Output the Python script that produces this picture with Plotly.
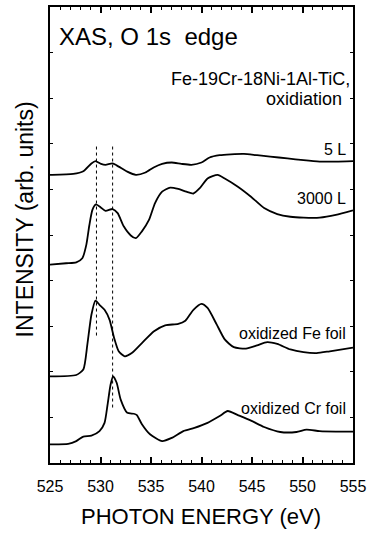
import plotly.graph_objects as go

# Photon energy grids (eV) and offset intensities (arb. units) for each spectrum
e_5L = [525.0, 525.2, 527.3, 528.3, 529.1, 529.5, 530.05, 530.5, 531.2, 531.8, 532.65,
        533.5, 534.45, 535.26, 536.1, 537.05, 538.0, 539.0, 540.0, 540.8, 541.8, 542.9,
        544.2, 545.5, 546.8, 548.5, 550.1, 551.7, 553.3, 555.0]
i_5L = [6.32, 6.32, 6.34, 6.40, 6.57, 6.62, 6.56, 6.54, 6.57, 6.50, 6.39,
        6.32, 6.37, 6.48, 6.56, 6.59, 6.56, 6.54, 6.59, 6.70, 6.75, 6.77,
        6.78, 6.75, 6.72, 6.68, 6.64, 6.61, 6.61, 6.62]

e_3000L = [525.0, 526.6, 527.6, 528.2, 528.6, 528.9, 529.2, 529.55, 530.05, 530.5, 531.2,
           531.7, 532.3, 533.0, 533.5, 534.1, 534.8, 535.4, 536.1, 536.9, 537.7, 538.5,
           539.2, 539.8, 540.6, 541.6, 542.3, 543.6, 544.9, 546.2, 547.5, 548.8, 550.1,
           551.7, 553.3, 555.0]
i_3000L = [4.35, 4.38, 4.40, 4.49, 4.79, 5.22, 5.55, 5.67, 5.60, 5.53, 5.57,
           5.48, 5.19, 4.99, 4.93, 5.08, 5.33, 5.70, 5.95, 6.04, 6.01, 5.95,
           5.91, 6.02, 6.24, 6.32, 6.24, 6.06, 5.84, 5.59, 5.46, 5.40, 5.38,
           5.38, 5.44, 5.54]

e_fe = [525.0, 527.6, 528.3, 528.7, 529.1, 529.5, 529.9, 530.4, 530.9, 531.35, 531.8,
        532.4, 533.1, 534.1, 535.3, 536.4, 537.7, 538.4, 539.2, 540.0, 540.6, 541.5,
        542.3, 543.2, 544.4, 545.5, 546.5, 547.5, 548.8, 550.1, 551.4, 552.7, 555.0]
i_fe = [1.90, 1.93, 2.05, 2.60, 3.25, 3.56, 3.47, 3.36, 3.14, 2.74, 2.45,
        2.34, 2.41, 2.63, 2.89, 3.02, 3.05, 3.12, 3.36, 3.49, 3.40, 3.04,
        2.71, 2.54, 2.51, 2.58, 2.65, 2.61, 2.49, 2.43, 2.41, 2.45, 2.53]

e_cr = [525.0, 526.8, 527.6, 528.3, 529.1, 529.9, 530.4, 530.7, 531.0, 531.25, 531.6,
        532.0, 532.65, 533.3, 533.6, 534.1, 534.9, 536.1, 537.05, 538.2, 539.3, 540.6,
        541.8, 542.6, 543.6, 544.9, 546.2, 547.8, 549.4, 550.4, 551.7, 553.3, 555.0]
i_cr = [0.41, 0.42, 0.48, 0.58, 0.60, 0.70, 0.88, 1.28, 1.72, 1.90, 1.76,
        1.39, 1.10, 1.08, 1.05, 0.85, 0.63, 0.48, 0.55, 0.70, 0.77, 0.88,
        1.03, 1.14, 1.05, 0.93, 0.79, 0.68, 0.68, 0.73, 0.70, 0.69, 0.69]

# Vertical guide lines at the two pre-edge features: energy, top, bottom
guide_e = [529.6, 531.2]
guide_top = [6.94, 6.94]
guide_bottom = [2.78, 1.18]

# Curve labels: text and vertical position
label_text = ["5 L", "3000 L", "oxidized Fe foil", "oxidized Cr foil"]
label_y = [6.87, 5.80, 2.85, 1.20]

FONT = "Liberation Sans, Arial, sans-serif"

W, H = 371, 535
ML, MR, MT, MB = 50, 14, 5, 72
plot_w = W - ML - MR
plot_h = H - MT - MB


def px_x(px):
    return (px - ML) / plot_w


def px_y(py):
    return (H - MB - py) / plot_h


fig = go.Figure()

for e, i in [(e_5L, i_5L), (e_3000L, i_3000L), (e_fe, i_fe), (e_cr, i_cr)]:
    fig.add_trace(go.Scatter(x=e, y=i, mode="lines",
                             line=dict(color="black", width=1.8, shape="spline", smoothing=0.6),
                             showlegend=False, hoverinfo="skip"))

for ge, gt, gb in zip(guide_e, guide_top, guide_bottom):
    fig.add_trace(go.Scatter(x=[ge, ge], y=[gt, gb], mode="lines",
                             line=dict(color="black", width=1, dash="dot"),
                             showlegend=False, hoverinfo="skip"))

for txt, ly in zip(label_text, label_y):
    fig.add_annotation(x=554.5, y=ly, xref="x", yref="y", text=txt, showarrow=False,
                       xanchor="right", yanchor="middle",
                       font=dict(family=FONT, size=16, color="black"))

fig.add_annotation(x=px_x(57), y=px_y(35), xref="paper", yref="paper",
                   text="XAS, O 1s\u00a0 edge", showarrow=False,
                   xanchor="left", yanchor="middle",
                   font=dict(family=FONT, size=24, color="black"))
fig.add_annotation(x=px_x(356), y=px_y(77), xref="paper", yref="paper",
                   text="Fe-19Cr-18Ni-1Al-TiC,", showarrow=False,
                   xanchor="right", yanchor="middle",
                   font=dict(family=FONT, size=18, color="black"))
fig.add_annotation(x=px_x(348), y=px_y(97), xref="paper", yref="paper",
                   text="oxidiation", showarrow=False,
                   xanchor="right", yanchor="middle",
                   font=dict(family=FONT, size=18, color="black"))

# Axis titles
fig.add_annotation(x=px_x(203), y=px_y(517), xref="paper", yref="paper",
                   text="PHOTON ENERGY (eV)", showarrow=False,
                   xanchor="center", yanchor="middle",
                   font=dict(family=FONT, size=22, color="black"))
fig.add_annotation(x=px_x(25), y=px_y(218), xref="paper", yref="paper",
                   text="INTENSITY (arb. units)", showarrow=False, textangle=-90,
                   xanchor="center", yanchor="middle",
                   font=dict(family=FONT, size=23, color="black"))

fig.update_layout(
    width=W, height=H,
    margin=dict(l=ML, r=MR, t=MT, b=MB),
    paper_bgcolor="white", plot_bgcolor="white",
    font=dict(family=FONT, color="black"),
    xaxis=dict(range=[525, 555], tickmode="linear", tick0=525, dtick=5,
               ticks="inside", ticklen=6, tickwidth=1.5, tickcolor="black",
               minor=dict(dtick=1, ticks="inside", ticklen=3, tickwidth=1.2, tickcolor="black"),
               showline=True, linecolor="black", linewidth=2, mirror="allticks",
               showgrid=False, zeroline=False, ticklabelstandoff=8,
               tickfont=dict(family=FONT, size=16, color="black")),
    yaxis=dict(range=[0, 10], tickmode="linear", tick0=0, dtick=1,
               ticks="inside", ticklen=3, tickwidth=1, tickcolor="black",
               showticklabels=False,
               showline=True, linecolor="black", linewidth=2, mirror="allticks",
               showgrid=False, zeroline=False),
)

fig.write_html("out.html")
